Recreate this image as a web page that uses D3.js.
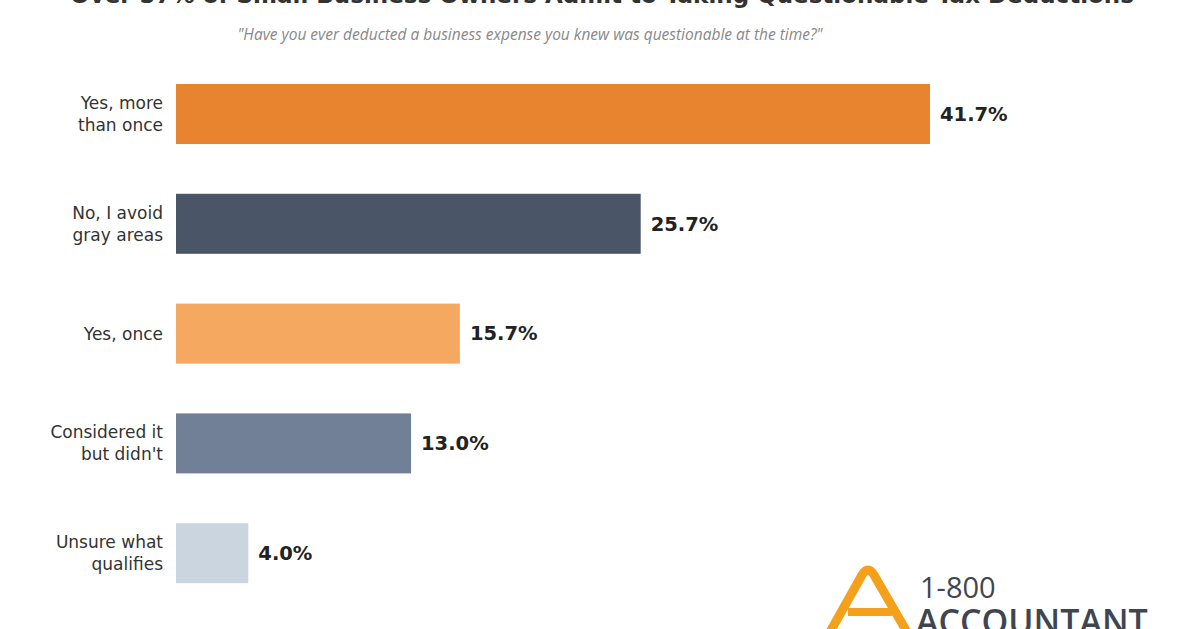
<!DOCTYPE html>
<html><head><meta charset="utf-8">
<script src="https://cdn.jsdelivr.net/npm/d3@7"></script>
<style>body{margin:0;background:#fff}</style></head>
<body><svg id="c" width="1200" height="629"></svg>
<script>
const categories = [["Yes, more","than once"],["No, I avoid","gray areas"],["Yes, once"],["Considered it","but didn't"],["Unsure what","qualifies"]];
const values = [41.7, 25.7, 15.7, 13.0, 4.0];
const colors = ["#E8832F","#4A5568","#F4A860","#718096","#CBD5E0"];
const svg = d3.select("#c");
svg.append("text").attr("x",602).attr("y",3).attr("text-anchor","middle")
  .attr("font-family","DejaVu Sans").attr("font-weight","bold").attr("font-size",23).attr("fill","#333")
  .text("Over 57% of Small Business Owners Admit to Taking Questionable Tax Deductions");
svg.append("text").attr("x",530).attr("y",40).attr("text-anchor","middle")
  .attr("font-family","Open Sans").attr("font-style","italic").attr("font-size",15.5).attr("fill","#888")
  .text("\"Have you ever deducted a business expense you knew was questionable at the time?\"");
const x = d3.scaleLinear().domain([0,41.7]).range([176,930]);
const y2 = d3.scaleBand().domain(d3.range(values.length)).range([59,608]).padding(0);
const g = svg.selectAll("g.b").data(values).join("g");
g.append("rect").attr("x",x(0)).attr("y",(d,i)=>y2(i)+25).attr("height",60)
  .attr("width",d=>x(d)-x(0)).attr("fill",(d,i)=>colors[i]);
g.append("text").attr("x",d=>x(d)+10).attr("y",(d,i)=>y2(i)+55).attr("dy","0.35em")
  .attr("font-family","DejaVu Sans").attr("font-weight","bold").attr("font-size",19.5).attr("fill","#222")
  .text(d=>d.toFixed(1)+"%");
g.each(function(d,i){
  const lines = categories[i];
  const t = d3.select(this).append("text").attr("text-anchor","end").attr("font-family","DejaVu Sans")
    .attr("font-size",17).attr("fill","#333");
  lines.forEach((l,k)=>t.append("tspan").attr("x",163)
    .attr("y",y2(i)+55+(k-(lines.length-1)/2)*22).attr("dy","0.35em").text(l));
});
// logo
const lg = svg.append("g");
lg.append("path").attr("d","M830,632 L862,575 Q868,565 874,575 L907,632").attr("fill","none")
  .attr("stroke","#F5A01A").attr("stroke-width",9).attr("stroke-linejoin","round");
lg.append("path").attr("d","M848,612 L892,612").attr("stroke","#F5A01A").attr("stroke-width",8);
lg.append("text").attr("x",920).attr("y",598).attr("font-family","Open Sans").attr("font-size",29).attr("fill","#3f4650").text("1-800");
lg.append("text").attr("x",916).attr("y",634).attr("font-family","Open Sans").attr("font-weight","600").attr("font-size",34).attr("fill","#3f4650").text("ACCOUNTANT");
</script></body></html>
